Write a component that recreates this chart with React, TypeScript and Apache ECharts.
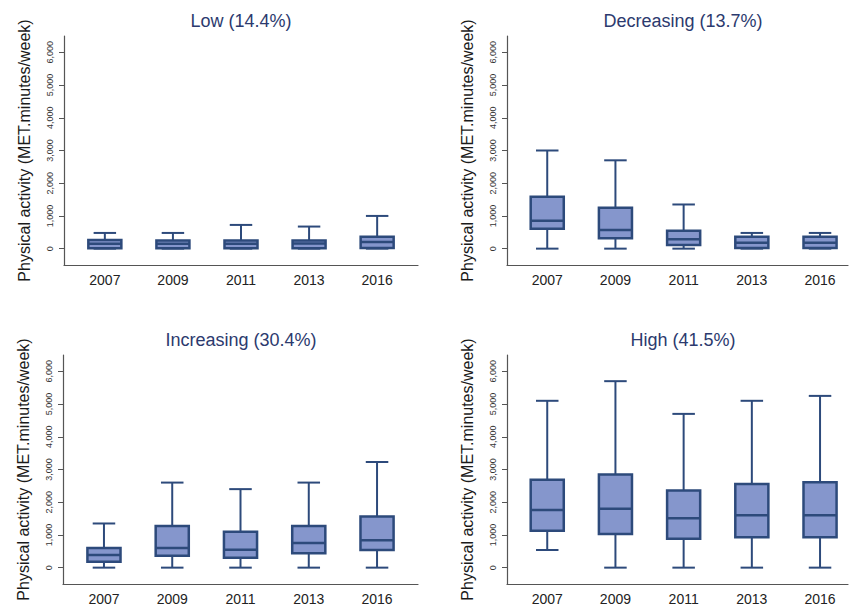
import React, { useEffect, useRef } from "react";
import * as echarts from "echarts";

const years = ["2007", "2009", "2011", "2013", "2016"];
const yTicks = [0, 1000, 2000, 3000, 4000, 5000, 6000];
const panelTitles = ["Low (14.4%)", "Decreasing (13.7%)", "Increasing (30.4%)", "High (41.5%)"];
const yName = "Physical activity (MET.minutes/week)";

// [min, Q1, median, Q3, max]
const low = [
  [0, 10, 150, 265, 480],
  [0, 10, 150, 250, 480],
  [0, 10, 150, 250, 725],
  [0, 10, 160, 250, 675],
  [0, 20, 200, 360, 1000],
];
const decreasing = [
  [0, 610, 850, 1590, 3000],
  [0, 320, 570, 1250, 2700],
  [0, 110, 290, 550, 1350],
  [0, 20, 180, 360, 480],
  [0, 20, 180, 360, 480],
];
const increasing = [
  [0, 180, 390, 600, 1350],
  [0, 360, 600, 1270, 2600],
  [0, 300, 550, 1100, 2400],
  [0, 440, 750, 1270, 2600],
  [0, 540, 840, 1560, 3230],
];
const high = [
  [540, 1130, 1760, 2690, 5100],
  [0, 1030, 1800, 2850, 5700],
  [0, 880, 1510, 2360, 4700],
  [0, 930, 1600, 2560, 5100],
  [0, 930, 1600, 2610, 5250],
];

const FONT = "'Liberation Sans', Arial, Helvetica, sans-serif";
const FILL = "#8596cc";
const STROKE = "#2d4a7b";

export default function App() {
  const ref = useRef<HTMLDivElement>(null);
  useEffect(() => {
    if (!ref.current) return;
    const chart = echarts.init(ref.current, undefined, { renderer: "svg" });
    const datasets = [low, decreasing, increasing, high];
    const layouts = [
      { left: 64, top: 36, width: 354, xmin: -0.6, xmax: 4.6, tx: 241, ty: 12 },
      { left: 507, top: 36, width: 341, xmin: -0.59, xmax: 4.41, tx: 683, ty: 12 },
      { left: 63, top: 355, width: 355, xmin: -0.6, xmax: 4.6, tx: 241, ty: 331 },
      { left: 507, top: 355, width: 341, xmin: -0.59, xmax: 4.41, tx: 683, ty: 331 },
    ];
    const H = 229;

    const renderItem = (params: any, api: any) => {
      const i = api.value(0);
      const lo = api.coord([i, api.value(1)]);
      const q1 = api.coord([i, api.value(2)]);
      const md = api.coord([i, api.value(3)]);
      const q3 = api.coord([i, api.value(4)]);
      const hi = api.coord([i, api.value(5)]);
      const band = api.size([1, 0])[0];
      const bw = band * 0.485;
      const cw = band * 0.33;
      const x = lo[0];
      const ls = { stroke: STROKE, lineWidth: 2 };
      return {
        type: "group",
        children: [
          { type: "line", shape: { x1: x, y1: hi[1], x2: x, y2: q3[1] }, style: ls },
          { type: "line", shape: { x1: x, y1: q1[1], x2: x, y2: lo[1] }, style: ls },
          { type: "line", shape: { x1: x - cw / 2, y1: hi[1], x2: x + cw / 2, y2: hi[1] }, style: ls },
          { type: "line", shape: { x1: x - cw / 2, y1: lo[1], x2: x + cw / 2, y2: lo[1] }, style: ls },
          {
            type: "rect",
            shape: { x: x - bw / 2, y: q3[1], width: bw, height: q1[1] - q3[1] },
            style: { fill: FILL, stroke: STROKE, lineWidth: 2.5 },
          },
          {
            type: "line",
            shape: { x1: x - bw / 2, y1: md[1], x2: x + bw / 2, y2: md[1] },
            style: { stroke: STROKE, lineWidth: 2.5 },
          },
        ],
      };
    };

    const option: any = {
      animation: false,
      backgroundColor: "#ffffff",
      title: layouts.map((l, k) => ({
        text: panelTitles[k],
        left: l.tx,
        top: l.ty,
        textAlign: "center",
        padding: 0,
        textStyle: { fontFamily: FONT, fontSize: 18, fontWeight: "normal", color: "#2c3a6e" },
      })),
      grid: layouts.map((l) => ({ left: l.left, top: l.top, width: l.width, height: H, containLabel: false })),
      xAxis: layouts.map((l, k) => ({
        type: "value",
        gridIndex: k,
        min: l.xmin,
        max: l.xmax,
        axisLine: { show: true, onZero: false, lineStyle: { color: "#555", width: 1.2 } },
        axisTick: { show: false },
        splitLine: { show: false },
        axisLabel: {
          customValues: [0, 1, 2, 3, 4],
          formatter: (v: number) => years[Math.round(v)],
          fontFamily: FONT,
          fontSize: 14,
          color: "#222",
          margin: 8,
        },
      })),
      yAxis: layouts.map((l, k) => ({
        type: "value",
        gridIndex: k,
        min: -500,
        max: 6500,
        name: yName,
        nameLocation: "middle",
        nameRotate: 90,
        nameGap: 32,
        nameTextStyle: { fontFamily: FONT, fontSize: 16, color: "#1a1a1a" },
        axisLine: { show: true, onZero: false, lineStyle: { color: "#555", width: 1.2 } },
        axisTick: { show: true, customValues: yTicks, length: 5, lineStyle: { color: "#555" } },
        splitLine: { show: false },
        axisLabel: {
          customValues: yTicks,
          rotate: 90,
          formatter: (v: number) => v.toLocaleString("en-US"),
          fontFamily: FONT,
          fontSize: 9,
          color: "#333",
          margin: 10,
        },
      })),
      series: datasets.map((d, k) => ({
        type: "custom",
        xAxisIndex: k,
        yAxisIndex: k,
        renderItem,
        encode: { x: 0, y: [1, 2, 3, 4, 5] },
        data: d.map((row, i) => [i, ...row]),
      })),
    };
    chart.setOption(option);
    return () => chart.dispose();
  }, []);
  return (
    <div
      ref={ref}
      style={{ position: "fixed", left: 0, top: 0, width: 849, height: 607, background: "#fff" }}
    />
  );
}
